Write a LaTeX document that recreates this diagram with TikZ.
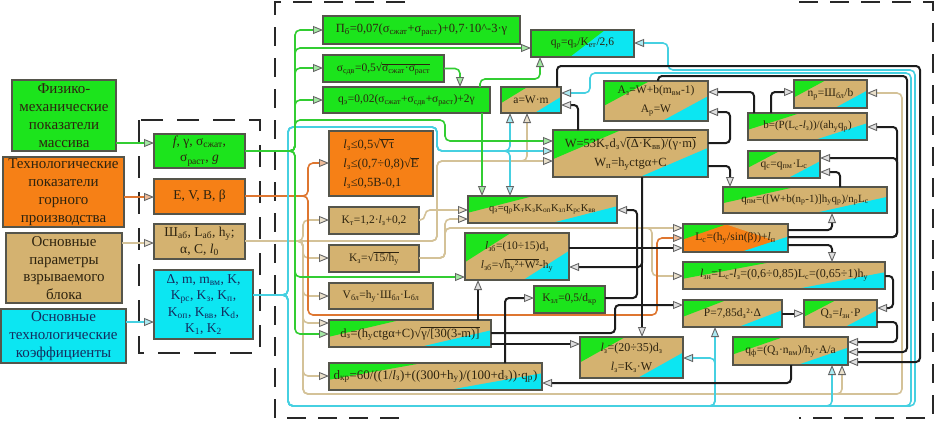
\documentclass[tikz,border=0pt]{standalone}
\usepackage{fontspec}
\setmainfont{Liberation Serif}
\usetikzlibrary{arrows.meta,calc}
\definecolor{grn}{RGB}{28,228,28}
\definecolor{cyn}{RGB}{12,230,242}
\definecolor{tanc}{RGB}{212,178,112}
\definecolor{org}{RGB}{246,128,22}
\definecolor{bord}{RGB}{85,85,75}
\definecolor{txt}{RGB}{45,35,15}
\definecolor{txtb}{RGB}{20,45,95}
\definecolor{gln}{RGB}{50,205,50}
\definecolor{cln}{RGB}{70,208,225}
\definecolor{tln}{RGB}{212,194,152}
\definecolor{oln}{RGB}{222,118,48}
\definecolor{bln}{RGB}{28,28,28}
\definecolor{dsh}{RGB}{40,40,40}
\newcommand\ix[1]{\textsubscript{#1}}
\newcommand\Rt[1]{√$\overline{\mbox{#1}}$}
\newcommand\bx[7]{\node[#2, minimum width={(#5-#3)*1pt}, minimum height={(#6-#4)*1pt}] (#1) at ({(#3+#5)/2},{(#4+#6)/2}) {#7};}
\tikzset{
  box/.style={draw=bord, line width=1.1pt, inner sep=0pt, outer sep=0pt, align=center, text=txt},
  bigf/.style={font=\fontsize{15}{17.8}\selectfont},
  midf/.style={font=\fontsize{13.5}{16.5}\selectfont},
  frm/.style={font=\fontsize{11.5}{19}\selectfont},
  fs/.style={font=\fontsize{#1}{19}\selectfont},
  gbox/.style={box, fill=grn},
  obox/.style={box, fill=org},
  tbox/.style={box, fill=tanc},
  cbox/.style={box, fill=cyn, text=txtb},
  tri/.style={box, fill=tanc, path picture={
    \fill[grn] (path picture bounding box.north west) -- ($(path picture bounding box.north west)!0.44!(path picture bounding box.north east)$) -- ($(path picture bounding box.north west)!0.62!(path picture bounding box.south west)$) -- cycle;
    \fill[cyn] (path picture bounding box.south east) -- ($(path picture bounding box.south east)!0.44!(path picture bounding box.south west)$) -- ($(path picture bounding box.south east)!0.62!(path picture bounding box.north east)$) -- cycle;}},
  trio/.style={box, fill=org, path picture={
    \fill[tanc] ($(path picture bounding box.north west)!0.4!(path picture bounding box.north east)$) -- (path picture bounding box.north east) -- ($(path picture bounding box.north east)!0.75!(path picture bounding box.south east)$) -- cycle;
    \fill[grn] (path picture bounding box.north west) -- ($(path picture bounding box.north west)!0.42!(path picture bounding box.north east)$) -- ($(path picture bounding box.north west)!0.55!(path picture bounding box.south west)$) -- cycle;
    \fill[cyn] (path picture bounding box.south east) -- ($(path picture bounding box.south east)!0.45!(path picture bounding box.south west)$) -- ($(path picture bounding box.south east)!0.55!(path picture bounding box.north east)$) -- cycle;}},
  gcb/.style={box, fill=grn, path picture={
    \fill[cyn] ($(path picture bounding box.south west)!0.38!(path picture bounding box.south east)$) -- ($(path picture bounding box.north west)!0.72!(path picture bounding box.north east)$) -- (path picture bounding box.north east) -- (path picture bounding box.south east) -- cycle;}},
  tipst/.style={-{Triangle[length=10pt,width=8pt,line width=0.9pt,color=black!60,fill=#1]}},
  gl/.style={draw=gln, line width=1.6pt, rounded corners=5pt, tipst=gln!45},
  cl/.style={draw=cln, line width=1.6pt, rounded corners=5pt, tipst=cln!45},
  tl/.style={draw=tln, line width=1.6pt, rounded corners=5pt, tipst=tln!50},
  ol/.style={draw=oln, line width=1.6pt, rounded corners=5pt, tipst=oln!50},
  bl/.style={draw=bln, line width=2pt, rounded corners=4pt, tipst=gray!25},
  dbig/.style={draw=dsh, line width=2.2pt, dash pattern=on 19pt off 12pt},
}
\begin{document}
\begin{tikzpicture}[x=1pt,y=-1pt]
\useasboundingbox (0,0) rectangle (936,424);
% dashed frames
\draw[dbig] (405,2) -- (275,2) -- (275,418) -- (409,418);
\draw[dbig] (799,2) -- (933,2) -- (933,418) -- (799,418);
\draw[draw=dsh, line width=2pt, dash pattern=on 22pt off 14pt] (139,120) rectangle (260,353);
% left column
\bx{a1}{gbox,bigf}{12}{80}{116}{151}{Физико-\\механические\\показатели\\массива}
\bx{a2}{obox,bigf}{3}{157}{124}{227}{Технологические\\показатели\\горного\\производства}
\bx{a3}{tbox,bigf}{6}{233}{122}{303}{Основные\\параметры\\взрываемого\\блока}
\bx{a4}{cbox,bigf}{1}{309}{126}{363}{Основные\\технологические\\коэффициенты}
\bx{b1}{gbox,midf}{154}{134}{245}{168}{\textit{f}, γ, σ\ix{сжат},\\ σ\ix{раст}, \textit{g}}
\bx{b2}{obox,midf}{154}{179}{245}{214}{E, V, B, β}
\bx{b3}{tbox,midf}{154}{224}{245}{259}{Ш\ix{аб}, L\ix{аб}, h\ix{у};\\ α, C, \textit{l}\ix{0}}
\bx{b4}{cbox,midf}{154}{270}{253}{339}{Δ, m, m\ix{вм}, K,\\ K\ix{рс}, K\ix{з}, K\ix{п},\\ K\ix{оп}, K\ix{вв}, K\ix{d},\\ K\ix{1}, K\ix{2}}
% formula boxes
\bx{c1}{gbox,fs=12.5}{323}{16}{520}{44}{П\ix{б}=0,07(σ\ix{сжат}+σ\ix{раст})+0,7·10\^{}-3·γ}
\bx{c2}{gbox,frm}{323}{55}{444}{82}{σ\ix{сдв}=0,5\Rt{σ\ix{сжат}·σ\ix{раст}}}
\bx{c3}{gbox,frm}{323}{87}{490}{113}{q\ix{э}=0,02(σ\ix{сжат}+σ\ix{сдв}+σ\ix{раст})+2γ}
\bx{c4}{gcb,frm}{531}{30}{634}{57}{q\ix{р}=q\ix{э}/K\ix{ет}/2,6}
\bx{c5}{tri,frm}{501}{87}{561}{113}{a=W·m}
\bx{c6}{tri,fs=12.5}{553}{130}{708}{177}{W=53K\ix{т}d\ix{з}\Rt{(Δ·K\ix{вв})/(γ·m)}\\W\ix{п}=h\ix{у}ctgα+C}
\bx{c7}{tri,frm}{604}{81}{708}{121}{A\ix{з}=W+b(m\ix{вм}-1)\\A\ix{р}=W}
\bx{c8}{tri,frm}{794}{80}{867}{108}{n\ix{р}=Ш\ix{бл}/b}
\bx{c9}{tri,fs=11}{748}{113}{867}{140}{b=(P(L\ix{с}-\textit{l}\ix{з}))/(ah\ix{у}q\ix{р})}
\bx{c10}{tri,frm}{748}{151}{820}{178}{q\ix{с}=q\ix{пм}·L\ix{с}}
\bx{c11}{tri,fs=11}{723}{187}{887}{213}{q\ix{пм}=([W+b(n\ix{р}-1)]h\ix{у}q\ix{р})/n\ix{р}L\ix{с}}
\bx{c12}{obox,fs=12.5,align=left}{329}{131}{433}{196}{\textit{l}\ix{з}≤0,5\Rt{Vτ}\\\textit{l}\ix{з}≤(0,7÷0,8)\Rt{E}\\\textit{l}\ix{з}≤0,5B-0,1}
\bx{c13}{tbox,frm}{329}{207}{419}{234}{K\ix{т}=1,2·\textit{l}\ix{з}+0,2}
\bx{c14}{tbox,frm}{329}{245}{419}{272}{K\ix{з}=\Rt{15/h\ix{у}}}
\bx{c15}{tbox,frm}{329}{283}{433}{309}{V\ix{бл}=h\ix{у}·Ш\ix{бл}·L\ix{бл}}
\bx{c16}{tri,fs=12.5}{329}{320}{491}{347}{d\ix{з}=(h\ix{у}ctgα+C)\Rt{γ/[30(3-m)]}}
\bx{c17}{tri,fs=13}{329}{363}{542}{390}{d\ix{кр}=60/((1/\textit{l}\ix{з})+((300+h\ix{у})/(100+d\ix{з}))·q\ix{р})}
\bx{c18}{tri,fs=10.5}{468}{196}{617}{223}{q\ix{з}=q\ix{р}K\ix{т}K\ix{з}K\ix{оп}K\ix{зл}K\ix{рс}K\ix{вв}}
\bx{c19}{tri,frm}{465}{233}{569}{280}{\textit{l}\ix{зб}=(10÷15)d\ix{з}\\\textit{l}\ix{зб}=\Rt{h\ix{у}²+W²}-h\ix{у}}
\bx{c20}{gbox,frm}{534}{286}{605}{313}{K\ix{зл}=0,5/d\ix{кр}}
\bx{c21}{tri,fs=12}{580}{337}{683}{378}{\textit{l}\ix{з}=(20÷35)d\ix{з}\\\textit{l}\ix{з}=K\ix{з}·W}
\bx{c22}{trio,frm}{683}{224}{788}{252}{L\ix{с}=(h\ix{у}/sin(β))+\textit{l}\ix{п}}
\bx{c23}{tri,fs=12}{683}{262}{885}{289}{\textit{l}\ix{зн}=L\ix{с}-\textit{l}\ix{з}=(0,6÷0,85)L\ix{с}=(0,65÷1)h\ix{у}}
\bx{c24}{tri,frm}{683}{300}{782}{327}{P=7,85d\ix{з}²·Δ}
\bx{c25}{tri,frm}{804}{300}{877}{327}{Q\ix{з}=\textit{l}\ix{зн}·P}
\bx{c26}{tri,frm}{733}{337}{848}{365}{q\ix{ф}=(Q\ix{з}·n\ix{вм})/h\ix{у}·A/a}
% left arrows
\draw[gl] (a1.east |- 0,143) -- (b1.west |- 0,143);
\draw[ol] (a2.east |- 0,197) -- (b2.west |- 0,197);
\draw[tl] (a3.east |- 0,243) -- (b3.west |- 0,243);
\draw[cl] (a4.east |- 0,322) -- (b4.west |- 0,322);
% tan network
\foreach \t/\yy in {c13/220,c14/258,c15/296,c16/323,c17/376}
  \draw[tl] (b3.east |- 0,241) -- (303,241) |- (\t.west |- 0,\yy);
\draw[tl] (b3.east |- 0,241) -- (303,241) |- (902,394) |- (c8.east |- 0,93);
\draw[tl] (b3.east |- 0,241) -- (303,241) |- (842,394) -- (c26.south -| 842,0);
\draw[tl] (b3.east |- 0,241) -- (437,241) |- (c6.west |- 0,161);
\draw[tl] (b3.east |- 0,241) -- (437,241) |- (527,161) -- (c5.south -| 527,0);
\draw[tl] (c13.east |- 0,220) -- (425,220) |- (c18.west |- 0,210);
\draw[tl] (c14.east |- 0,258) -- (445,258) |- (c18.west |- 0,219);
\draw[tl] (c14.east |- 0,258) -- (445,258) |- (c22.west |- 0,228);
\draw[tl] (c14.east |- 0,258) -- (445,258) |- (652,228) |- (c23.west |- 0,276);
% orange network
\draw[ol] (b2.east |- 0,196) -- (308,196) |- (c12.west |- 0,163);
\draw[ol] (b2.east |- 0,196) -- (308,196) |- (657,315) |- (c22.west |- 0,238);
% cyan network
\draw[cl] (b4.east |- 0,295) -- (288,295) |- (437,127) |- (c6.west |- 0,151);
\draw[cl] (b4.east |- 0,295) -- (288,295) |- (437,127) |- (510,151) -- (c5.south -| 510,0);
\draw[cl] (b4.east |- 0,295) -- (288,295) |- (437,127) |- (510,151) -- (c18.north -| 510,0);
\draw[cl] (b4.east |- 0,295) -- (288,295) |- (911,406) |- (590,73) |- (c5.east |- 0,93);
\draw[cl] (b4.east |- 0,295) -- (288,295) |- (915,406) |- (668,70) |- (c4.east |- 0,43);
\draw[cl] (b4.east |- 0,295) -- (288,295) |- (715,406) -- (c24.south -| 715,0);
\draw[cl] (b4.east |- 0,295) -- (288,295) |- (715,406) |- (c21.east |- 0,358);
\draw[cl] (b4.east |- 0,295) -- (288,295) |- (832,406) -- (c26.south -| 832,0);
% green network
\foreach \t/\yy in {c1/30,c4/48,c2/68,c3/100,c19/277,c16/334}
  \draw[gl] (b1.east |- 0,151) -- (295,151) |- (\t.west |- 0,\yy);
\draw[gl] (b1.east |- 0,151) -- (295,151) |- (445,120) |- (c6.west |- 0,141);
\draw[gl] (c2.east) -| (c3.north -| 460,0);
\draw[gl] (c3.north -| 480,0) |- (540,79) -- (c4.south -| 540,0);
\draw[gl] (c3.south -| 482,0) -- (c18.north -| 482,0);
% black network
\draw[bl] (c6.north -| 578,0) |- (c5.east |- 0,105);
\draw[bl] (c5.north -| 557,0) |- (920,66) |- (c26.east |- 0,362);
\draw[bl] (c7.north -| 658,0) |- (907,76) |- (c26.east |- 0,352);
\draw[bl] (c6.east |- 0,143) -- (730,143) |- (c7.east |- 0,112);
\draw[bl] (c9.north -| 754,0) |- (c7.east |- 0,92);
\draw[bl] (c9.north -| 771,0) |- (c8.west |- 0,92);
\draw[bl] (c6.east |- 0,166) -| (c11.north -| 730,0);
\draw[bl] (c22.east |- 0,237) -- (897,237) |- (c9.east |- 0,127);
\draw[bl] (c22.east |- 0,237) -- (897,237) |- (c10.east |- 0,158);
\draw[bl] (c11.north -| 840,0) |- (c10.east |- 0,172);
\draw[bl] (c22.east |- 0,230) -| (c11.south -| 832,0);
\draw[bl] (c22.east |- 0,245) -| (c23.north -| 832,0);
\draw[bl] (c23.east |- 0,276) -- (893,276) |- (c25.east |- 0,308);
\draw[bl] (c24.east) -- (c25.west);
\draw[bl] (c25.east |- 0,322) -- (897,322) |- (c26.east |- 0,342);
\draw[bl] (c26.south -| 791,0) |- (c17.east |- 0,383);
\draw[bl] (c17.north -| 505,0) |- (c20.west |- 0,298);
\draw[bl] (c16.north -| 478,0) -- (c19.south -| 478,0);
\draw[bl] (c16.east |- 0,344) -- (c21.west |- 0,344);
\draw[bl] (c16.east |- 0,333) -- (615,333) |- (c24.west |- 0,305);
\draw[bl] (c19.east |- 0,248) -- (c22.west |- 0,248);
\draw[bl] (c6.south -| 642,0) -- (c21.north -| 642,0);
\draw[bl] (c6.south -| 642,0) |- (c19.east |- 0,267);
\draw[bl] (c20.east |- 0,298) -- (637,298) |- (c18.east |- 0,210);
\end{tikzpicture}
\end{document}
